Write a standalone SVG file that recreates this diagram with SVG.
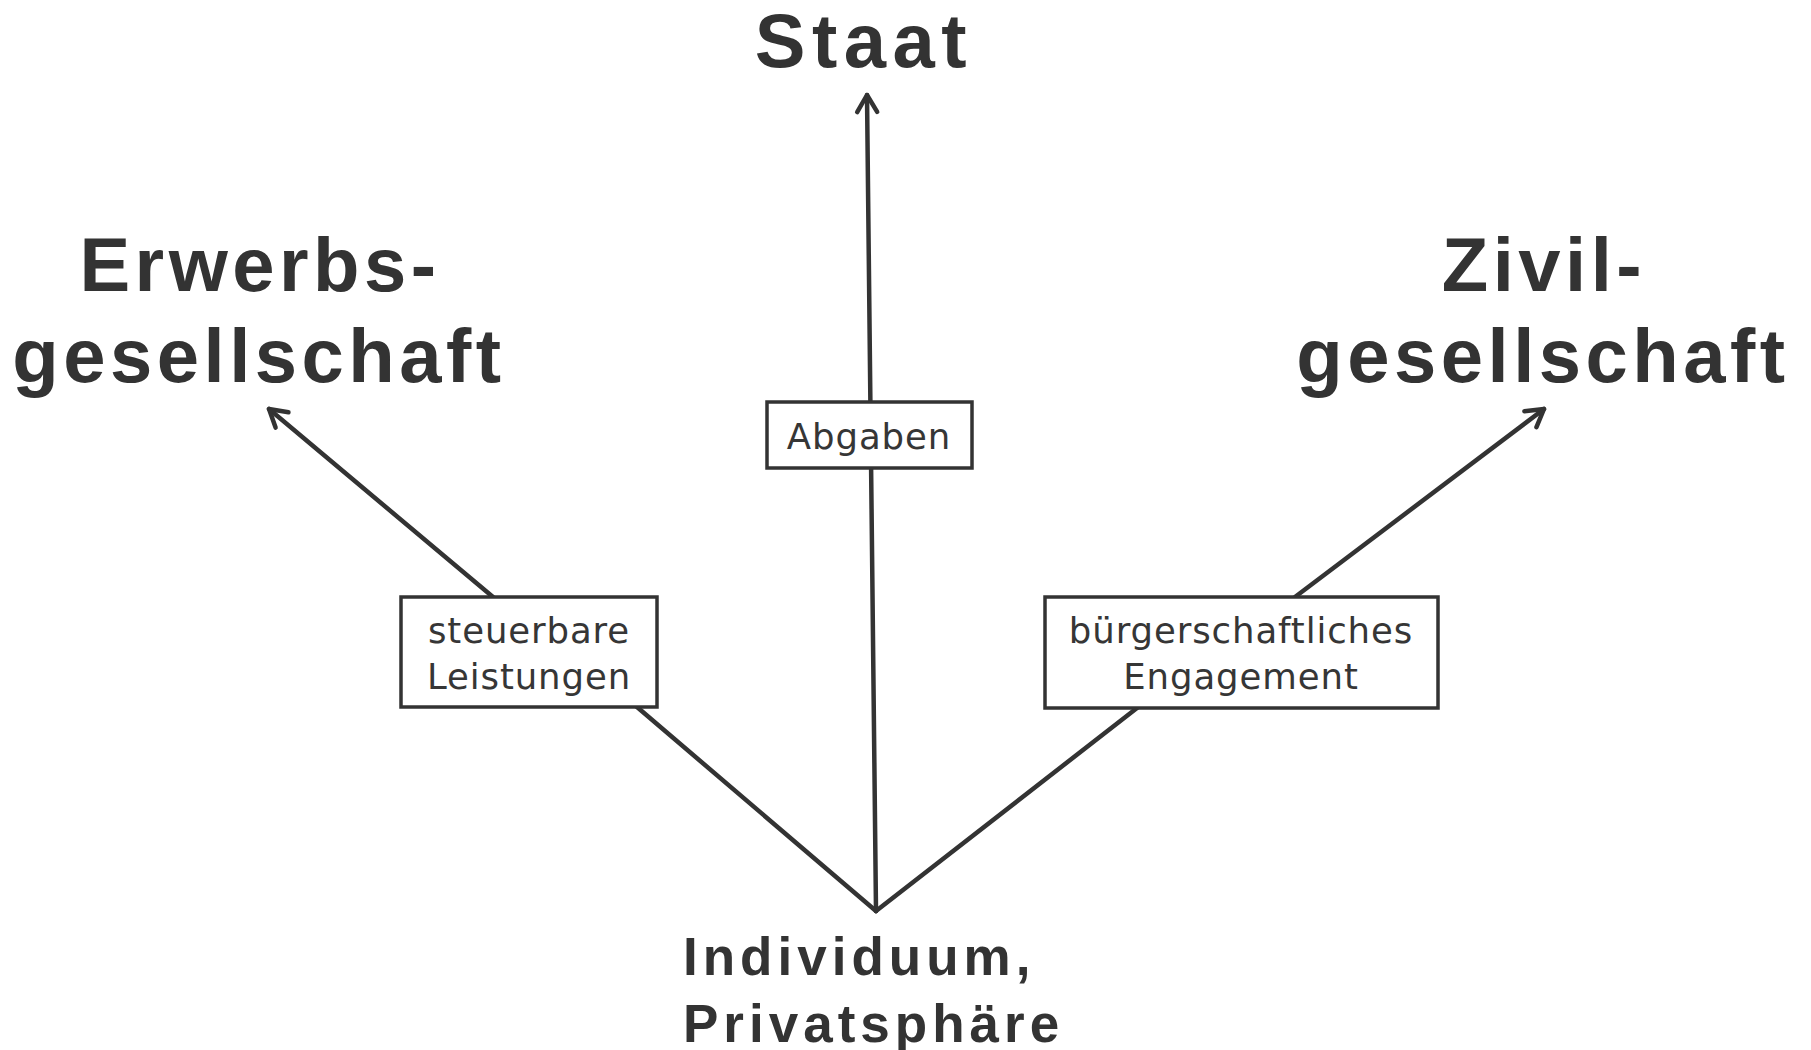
<svg xmlns="http://www.w3.org/2000/svg" width="1811" height="1050" viewBox="0 0 1811 1050">
<style>
.title{font-family:"Liberation Sans",Arial,sans-serif;font-weight:bold;font-size:76px;fill:#333;letter-spacing:4.5px;text-anchor:middle}
.src{font-family:"Liberation Sans",Arial,sans-serif;font-weight:bold;font-size:53px;fill:#333;letter-spacing:5px}
.lbl{font-family:"DejaVu Sans",Verdana,sans-serif;font-size:35.5px;fill:#363636;letter-spacing:0.9px;text-anchor:middle}
.box{fill:#fff;stroke:#333;stroke-width:3.5}
.edge{fill:none;stroke:#333;stroke-width:4.5;stroke-linecap:round}
</style>
<defs>
<marker id="arr" markerUnits="userSpaceOnUse" markerWidth="40" markerHeight="40" refX="0" refY="0" viewBox="-25 -20 40 40" orient="auto">
<path d="M-17,-10 L0,0 L-17,10" fill="none" stroke="#333" stroke-width="4.5" stroke-linecap="round" stroke-linejoin="round"/>
</marker>
</defs>
<rect width="1811" height="1050" fill="#fff"/>
<g id="connectors">
<line class="edge" x1="876" y1="911" x2="867" y2="95" marker-end="url(#arr)"/>
<path class="edge" d="M876,911 L637,707 L560,640"/>
<path class="edge" d="M560,650 L493,597 L269,409" marker-end="url(#arr)"/>
<path class="edge" d="M876,911 L1137,708 L1220,645"/>
<path class="edge" d="M1220,650 L1295,597 L1544,409" marker-end="url(#arr)"/>
</g>
<g id="staat"><text class="title" x="864" y="67" style="letter-spacing:6.5px">Staat</text></g>
<g id="erwerb"><text class="title" x="260" y="291">Erwerbs-</text><text class="title" x="259" y="382">gesellschaft</text></g>
<g id="zivil"><text class="title" x="1544" y="291">Zivil-</text><text class="title" x="1543" y="382">gesellschaft</text></g>
<g id="individuum"><text class="src" x="683" y="975">Individuum,</text><text class="src" x="683" y="1042">Privatsphäre</text></g>
<g id="abgaben"><rect class="box" x="767" y="402" width="205" height="66"/><text class="lbl" x="869" y="449">Abgaben</text></g>
<g id="steuer"><rect class="box" x="401" y="597" width="256" height="110"/><text class="lbl" x="529" y="643">steuerbare</text><text class="lbl" x="529" y="689">Leistungen</text></g>
<g id="buerger"><rect class="box" x="1045" y="597" width="393" height="111"/><text class="lbl" x="1241" y="643">bürgerschaftliches</text><text class="lbl" x="1241" y="689">Engagement</text></g>
</svg>
